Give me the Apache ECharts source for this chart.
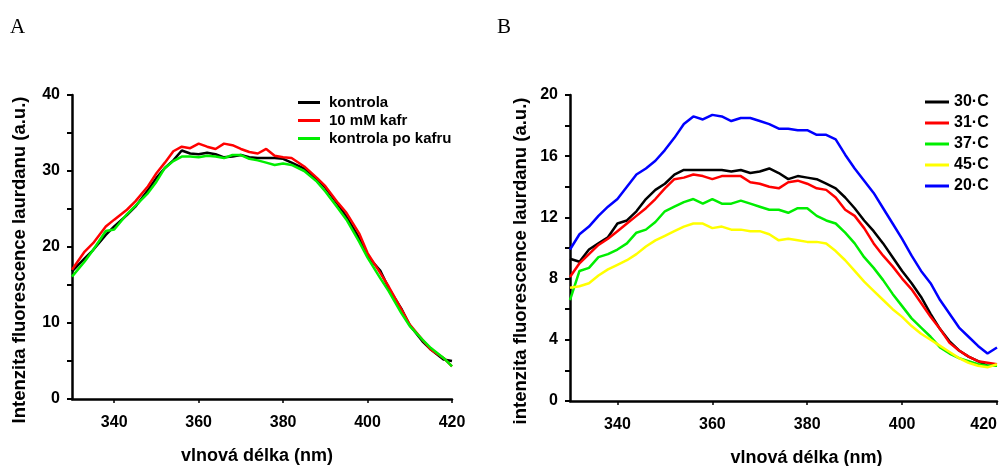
<!DOCTYPE html>
<html>
<head>
<meta charset="utf-8">
<script src="https://cdn.jsdelivr.net/npm/echarts@6/dist/echarts.min.js"></script>
<style>
  html, body { margin: 0; padding: 0; background: #fff; }
  #chart { width: 1003px; height: 466px; }
</style>
</head>
<body>
<div id="chart"></div>
<script>
// panel A - vlnove delky a hodnoty
var wlA = [330,333,335,338,340,343,345,348,350,352,354,356,358,360,362,364,366,368,370,372,374,376,378,380,382,385,388,390,393,395,398,400,403,405,408,410,413,415,418,420];
var kontrola = [16.8,18.5,19.6,21.6,22.7,24.2,25.3,27.5,29.1,30.4,31.4,32.7,32.3,32.2,32.4,32.2,31.8,31.9,32.1,31.8,31.7,31.7,31.7,31.6,31.1,30.3,28.9,27.8,25.6,24.0,21.2,18.8,16.9,14.6,11.9,9.7,7.6,6.5,5.2,5.0];
var kafr = [17.0,19.4,20.5,22.7,23.6,24.9,26.0,28.0,29.7,31.1,32.6,33.2,33.0,33.6,33.2,32.9,33.6,33.4,32.9,32.5,32.3,32.9,32.0,31.8,31.7,30.6,29.1,28.0,25.8,24.5,21.8,19.2,16.6,14.8,11.8,9.8,7.8,6.5,5.4,4.3];
var poKafru = [16.1,18.1,19.6,22.1,22.3,24.3,25.4,27.1,28.6,30.4,31.3,31.9,31.9,31.8,32.0,31.9,31.7,32.1,32.1,31.6,31.4,31.1,30.8,31.0,30.8,30.0,28.6,27.3,25.1,23.6,20.7,18.6,15.9,14.2,11.3,9.6,7.8,6.7,5.4,4.3];

// panel B - teploty
var wlB = [];
for (var w = 330; w <= 420; w += 2) { wlB.push(w); }
var t30 = [9.3,9.1,9.9,10.3,10.7,11.6,11.8,12.4,13.2,13.8,14.2,14.8,15.1,15.1,15.1,15.1,15.1,15.0,15.1,14.9,15.0,15.2,14.9,14.5,14.7,14.6,14.5,14.2,13.9,13.3,12.6,11.8,11.1,10.3,9.4,8.5,7.7,6.8,5.7,4.7,3.9,3.3,2.9,2.6,2.3,2.3];
var t31 = [8.1,9.0,9.6,10.2,10.6,11.1,11.6,12.1,12.6,13.2,13.9,14.5,14.6,14.8,14.7,14.5,14.7,14.7,14.7,14.3,14.2,14.0,13.9,14.3,14.4,14.2,13.9,13.8,13.3,12.5,12.1,11.3,10.3,9.5,8.8,8.0,7.3,6.4,5.5,4.7,3.8,3.3,2.9,2.6,2.5,2.4];
var t37 = [6.6,8.5,8.7,9.4,9.6,9.9,10.3,11.0,11.2,11.7,12.4,12.7,13.0,13.2,12.9,13.2,12.9,12.9,13.1,12.9,12.7,12.5,12.5,12.3,12.6,12.6,12.1,11.8,11.6,11.0,10.3,9.4,8.7,7.9,7.0,6.2,5.4,4.8,4.2,3.5,3.1,2.8,2.6,2.4,2.3,2.3];
var t45 = [7.4,7.5,7.7,8.2,8.6,8.9,9.2,9.6,10.1,10.5,10.8,11.1,11.4,11.6,11.6,11.3,11.4,11.2,11.2,11.1,11.1,10.9,10.5,10.6,10.5,10.4,10.4,10.3,9.8,9.2,8.5,7.8,7.2,6.6,6.0,5.5,4.9,4.4,4.0,3.6,3.2,2.8,2.5,2.3,2.2,2.4];
var t20 = [9.9,10.9,11.4,12.1,12.7,13.2,14.0,14.8,15.2,15.7,16.4,17.2,18.1,18.6,18.4,18.7,18.6,18.3,18.5,18.5,18.3,18.1,17.8,17.8,17.7,17.7,17.4,17.4,17.1,16.1,15.2,14.4,13.6,12.6,11.6,10.6,9.5,8.5,7.7,6.6,5.7,4.8,4.2,3.6,3.1,3.5];

var xTicks = [340, 360, 380, 400, 420];
var fontFam = 'Liberation Sans, Arial, sans-serif';

function pairs(xs, ys) {
    var out = [];
    for (var i = 0; i < xs.length; i++) {
        out.push([xs[i], ys[i]]);
    }
    return out;
}

function xAxisFor(gridIndex, lastAlign, namePad) {
    return {
        type: 'value', gridIndex: gridIndex, min: 330, max: 420,
        name: 'vlnová délka (nm)', nameLocation: 'middle', nameGap: 48,
        nameTextStyle: { fontFamily: fontFam, fontSize: 18, fontWeight: 'bold', color: '#000', padding: namePad },
        axisLine: { lineStyle: { color: '#000', width: 2.5 } },
        axisTick: { show: true, length: 4, lineStyle: { color: '#000', width: 1.5 }, customValues: xTicks },
        axisLabel: { fontFamily: fontFam, fontSize: 16, fontWeight: 'bold', color: '#000', margin: 16,
                     customValues: xTicks, alignMaxLabel: lastAlign },
        splitLine: { show: false }
    };
}

function yAxisFor(gridIndex, max, interval, name, gap) {
    return {
        type: 'value', gridIndex: gridIndex, min: 0, max: max, interval: interval,
        name: name, nameLocation: 'middle', nameGap: gap,
        nameTextStyle: { fontFamily: fontFam, fontSize: 18.5, fontWeight: 'bold', color: '#000', padding: [0, 26, 0, 0] },
        axisLine: { lineStyle: { color: '#000', width: 2.5 } },
        axisTick: { show: true, length: 5, lineStyle: { color: '#000', width: 2 } },
        minorTick: { show: true, splitNumber: 2, length: 5, lineStyle: { color: '#000', width: 2 } },
        axisLabel: { fontFamily: fontFam, fontSize: 16, fontWeight: 'bold', color: '#000', margin: 12 },
        splitLine: { show: false }
    };
}

function lineSeries(name, xi, data, color) {
    return {
        name: name, type: 'line', xAxisIndex: xi, yAxisIndex: xi,
        data: data, showSymbol: false, symbol: 'none', smooth: false,
        lineStyle: { color: color, width: 2.5 }, itemStyle: { color: color },
        animation: false
    };
}

var chart = echarts.init(document.getElementById('chart'), null, { renderer: 'canvas' });
var option = {
    backgroundColor: '#fff',
    animation: false,
    grid: [
        { left: 72, right: 551, top: 95, bottom: 67, outerBoundsMode: 'none' },
        { left: 570, right: 6, top: 95, bottom: 65, outerBoundsMode: 'none' }
    ],
    xAxis: [ xAxisFor(0, 'center', [0, 10, 0, 0]), xAxisFor(1, 'right', [0, 0, 0, 46]) ],
    yAxis: [
        yAxisFor(0, 40, 10, 'Intenzita fluorescence laurdanu (a.u.)', 43),
        yAxisFor(1, 20, 4, 'intenzita fluorescence laurdanu (a.u.)', 40)
    ],
    legend: [
        {
            left: 293, top: 90, orient: 'vertical', itemWidth: 22, itemHeight: 3, itemGap: 3,
            icon: 'rect', data: ['kontrola', '10 mM kafr', 'kontrola po kafru'],
            textStyle: { fontFamily: fontFam, fontSize: 15, fontWeight: 'bold', color: '#000', padding: [0, 0, 0, 4] }
        },
        {
            left: 920, top: 89, orient: 'vertical', itemWidth: 24, itemHeight: 3, itemGap: 5,
            icon: 'rect', data: ['30·C', '31·C', '37·C', '45·C', '20·C'],
            textStyle: { fontFamily: fontFam, fontSize: 16, fontWeight: 'bold', color: '#000' }
        }
    ],
    graphic: [
        { type: 'text', left: 10, top: 17, style: { text: 'A', font: '21px "Liberation Serif", serif', fill: '#000' } },
        { type: 'text', left: 497, top: 17, style: { text: 'B', font: '21px "Liberation Serif", serif', fill: '#000' } }
    ],
    series: [
        lineSeries('kontrola', 0, pairs(wlA, kontrola), '#000000'),
        lineSeries('10 mM kafr', 0, pairs(wlA, kafr), '#ff0000'),
        lineSeries('kontrola po kafru', 0, pairs(wlA, poKafru), '#00ee00'),
        lineSeries('30·C', 1, pairs(wlB, t30), '#000000'),
        lineSeries('31·C', 1, pairs(wlB, t31), '#ff0000'),
        lineSeries('37·C', 1, pairs(wlB, t37), '#00ee00'),
        lineSeries('45·C', 1, pairs(wlB, t45), '#ffff00'),
        lineSeries('20·C', 1, pairs(wlB, t20), '#0000ff')
    ]
};
chart.setOption(option);
</script>
</body>
</html>
